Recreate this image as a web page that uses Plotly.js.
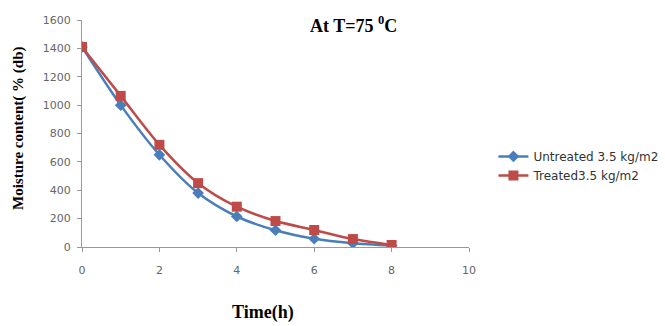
<!DOCTYPE html>
<html>
<head>
<meta charset="utf-8">
<script src="https://cdn.plot.ly/plotly-3.0.1.min.js"></script>
<style>html,body{margin:0;padding:0;background:#fff;}#chart{width:665px;height:326px;}</style>
</head>
<body>
<div id="chart"></div>
<script>
var timeH = [0, 1, 2, 3, 4, 5, 6, 7, 8];
var untreated = [1410, 1000, 650, 380, 215, 118, 58, 27, 10];
var treated = [1410, 1065, 720, 450, 284, 183, 120, 56, 14];
var seriesNames = ["Untreated 3.5 kg/m2", "Treated3.5 kg/m2"];
var xTicks = [0, 2, 4, 6, 8, 10];
var yTicks = [0, 200, 400, 600, 800, 1000, 1200, 1400, 1600];

var traces = [
  {x: timeH, y: untreated, name: seriesNames[0], type: "scatter", mode: "lines+markers",
   line: {color: "#4a7ebb", width: 2.5, shape: "spline", smoothing: 0.8},
   marker: {symbol: "diamond", size: 9, color: "#4a7ebb"}},
  {x: timeH, y: treated, name: seriesNames[1], type: "scatter", mode: "lines+markers",
   line: {color: "#be4b48", width: 2.5, shape: "spline", smoothing: 0.8},
   marker: {symbol: "square", size: 10, color: "#be4b48"}}
];

var tickFont = {family: "DejaVu Sans, sans-serif", size: 11, color: "#666"};
var serif = "Liberation Serif, Times New Roman, serif";

var layout = {
  width: 665, height: 326,
  margin: {l: 82, r: 196, t: 20, b: 79},
  paper_bgcolor: "#fff", plot_bgcolor: "#fff",
  showlegend: true,
  legend: {xref: "container", yref: "container", x: 0.742, xanchor: "left", y: 0.491, yanchor: "middle",
           font: {family: "DejaVu Sans, sans-serif", size: 12, color: "#333"},
           bgcolor: "rgba(0,0,0,0)", tracegroupgap: 0},
  xaxis: {range: [0, 10], tickvals: xTicks, ticktext: xTicks.map(String), automargin: false,
          showgrid: false, zeroline: false, showline: true, linecolor: "#999", linewidth: 1,
          ticks: "outside", ticklen: 4, tickcolor: "#999", tickfont: tickFont, ticklabelstandoff: 9},
  yaxis: {range: [0, 1600], tickvals: yTicks, ticktext: yTicks.map(String), automargin: false,
          showgrid: false, zeroline: false, showline: true, linecolor: "#999", linewidth: 1,
          ticks: "outside", ticklen: 4, tickcolor: "#999", tickfont: tickFont, ticklabelstandoff: 4},
  annotations: [
    {text: "<b>At T=75 <sup>0</sup>C</b>", xref: "paper", yref: "paper", x: 0.702, y: 1.0,
     xanchor: "center", yanchor: "bottom", yshift: -18, showarrow: false,
     font: {family: serif, size: 18, color: "#000"}},
    {text: "<b>Time(h)</b>", xref: "paper", yref: "paper", x: 0.468, y: 0,
     xanchor: "center", yanchor: "middle", yshift: -65, showarrow: false,
     font: {family: serif, size: 18, color: "#000"}},
    {text: "<b>Moisture content( % (db)</b>", xref: "paper", yref: "paper", x: 0, y: 0.52,
     xanchor: "center", yanchor: "middle", xshift: -63, textangle: -90, showarrow: false,
     font: {family: serif, size: 15, color: "#000"}}
  ]
};

Plotly.newPlot("chart", traces, layout, {displayModeBar: false, staticPlot: true});
</script>
</body>
</html>
